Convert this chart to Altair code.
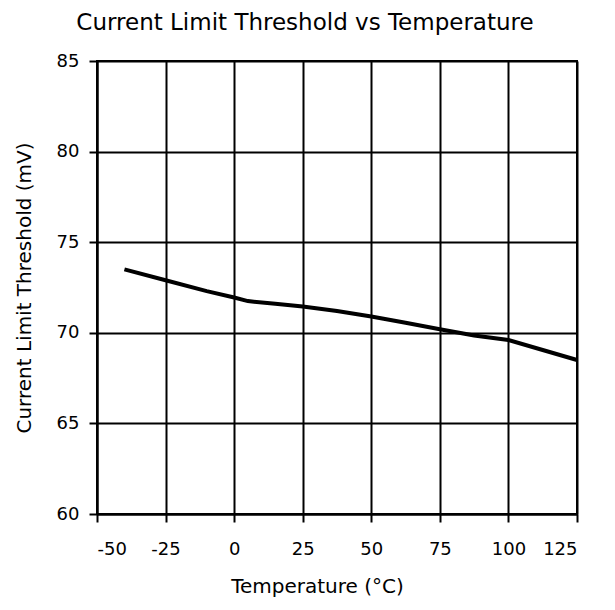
import altair as alt
import pandas as pd

temps = [-40, -25, -10, 0, 5, 15, 25, 37.5, 50, 62.5, 75, 87.5, 100, 112.5, 125]
thresh = [73.5, 72.9, 72.3, 71.95, 71.75, 71.6, 71.45, 71.2, 70.9, 70.55, 70.2, 69.85, 69.6, 69.05, 68.5]
x_ticks = [-50, -25, 0, 25, 50, 75, 100, 125]
y_ticks = [60, 65, 70, 75, 80, 85]

df = pd.DataFrame({"t": temps, "v": thresh})

FONT = "DejaVu Sans"

chart = alt.Chart(df).mark_line(color="black", strokeWidth=4).encode(
    x=alt.X("t:Q", scale=alt.Scale(domain=[-50, 125], nice=False, zero=False),
            axis=alt.Axis(values=x_ticks, title="Temperature (°C)",
                          labelExpr="'' + datum.value",
                          labelPadding=18, titlePadding=18, titleX=220)),
    y=alt.Y("v:Q", scale=alt.Scale(domain=[60, 85], nice=False, zero=False),
            axis=alt.Axis(values=y_ticks, title="Current Limit Threshold (mV)",
                          labelPadding=10, titlePadding=22)),
).properties(
    width=480, height=453,
    autosize=alt.AutoSizeParams(type="none"),
    padding={"left": 89, "top": 53, "right": 30, "bottom": 92},
    title=alt.TitleParams("Current Limit Threshold vs Temperature", fontSize=23,
                          font=FONT, fontWeight="normal", color="black",
                          anchor="middle", dx=-32, offset=17),
).configure_axis(
    domainColor="black", domainWidth=2, gridColor="black", gridWidth=2, gridOpacity=1,
    tickColor="black", tickWidth=2, tickSize=8,
    labelFont=FONT, labelFontSize=18, labelColor="black",
    titleFont=FONT, titleFontSize=20, titleColor="black", titleFontWeight="normal",
).configure_view(stroke="black", strokeWidth=2)

chart.save("out.html", embed_options={"renderer": "svg", "actions": False})
